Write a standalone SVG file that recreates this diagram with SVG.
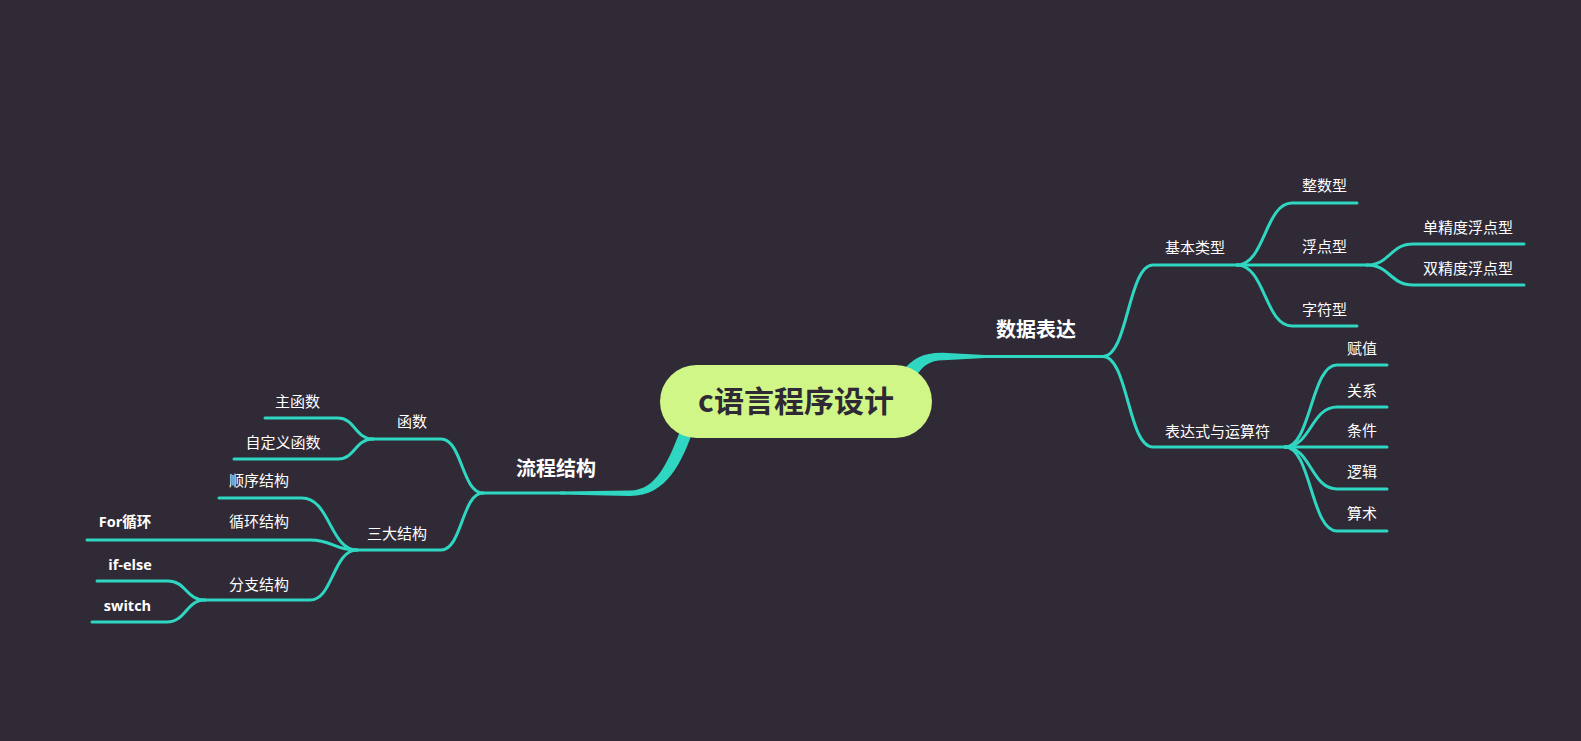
<svg xmlns="http://www.w3.org/2000/svg" width="1581" height="741" viewBox="0 0 1581 741">
<style>
.c{fill:none;stroke:#2fd6c1;stroke-width:3;stroke-linecap:round}
.t{fill:#2fd6c1;stroke:none}
.l{font-family:"Noto Sans CJK SC","Noto Sans",sans-serif;font-size:15px;fill:#ffffff;text-anchor:middle}
.b{font-family:"Noto Sans CJK SC","Noto Sans",sans-serif;font-size:20px;font-weight:700;fill:#ffffff;text-anchor:middle}
.e{font-family:"Open Sans","Noto Sans",sans-serif;font-size:14.5px;font-weight:700;fill:#ffffff;text-anchor:middle}
.root{font-family:"Noto Sans CJK SC","Noto Sans",sans-serif;font-size:30px;font-weight:700;fill:#2e2934;text-anchor:middle}
</style>
<rect x="0" y="0" width="1581" height="741" fill="#2f2a35"/>
<g id="connectors">
<path class="t" d="M903,370 C913,359 923,352.5 943,352.8 L985,355 L985,358 L943,360.3 C930,360.3 922,366 916,377 Z"/>
<path class="c" d="M980,356.5 L1103,356.5"/>
<path class="c" d="M1103,356.5 C1128,356.5 1128,265 1153,265 L1237,265"/>
<path class="c" d="M1103,356.5 C1128,356.5 1128,447 1153,447 L1285,447"/>
<path class="c" d="M1237,265 C1265,265 1265,203 1292,203 L1357,203"/>
<path class="c" d="M1237,265 L1367,265"/>
<path class="c" d="M1237,265 C1265,265 1265,326 1292,326 L1357,326"/>
<path class="c" d="M1367,265 C1390,265 1390,244 1413,244 L1524,244"/>
<path class="c" d="M1367,265 C1390,265 1390,285 1413,285 L1524,285"/>
<path class="c" d="M1285,447 C1311,447 1311,365 1337,365 L1387,365"/>
<path class="c" d="M1285,447 C1311,447 1311,407 1337,407 L1387,407"/>
<path class="c" d="M1285,447 L1387,447"/>
<path class="c" d="M1285,447 C1311,447 1311,489 1337,489 L1387,489"/>
<path class="c" d="M1285,447 C1311,447 1311,531 1337,531 L1387,531"/>
<path class="t" d="M694,428 C682,462 667,496 630,496 L560,494.5 L560,491.5 L630,490.5 C657,490.5 669,460 682,426 Z"/>
<path class="c" d="M483,493 L565,493"/>
<path class="c" d="M483,493 C462,493 462,439 441,439 L373,439"/>
<path class="c" d="M483,493 C462,493 462,550 441,550 L357,550"/>
<path class="c" d="M373,439 C355,439 355,418 338,418 L265,418"/>
<path class="c" d="M373,439 C355,439 355,459 338,459 L234,459"/>
<path class="c" d="M357,550 C330,550 330,498 302,498 L219,498"/>
<path class="c" d="M357,550 C333,550 333,540 310,540 L87,540"/>
<path class="c" d="M357,550 C333,550 333,600 310,600 L205,600"/>
<path class="c" d="M205,600 C186,600 186,581 168,581 L97,581"/>
<path class="c" d="M205,600 C186,600 186,622 167,622 L92,622"/>
</g>
<g id="root"><rect x="660" y="365" width="272" height="73" rx="36.5" fill="#d0f687"/><text class="root" x="796" y="412">c语言程序设计</text></g>
<g id="n-data"><text class="b" x="1036" y="337">数据表达</text></g>
<g id="n-basic"><text class="l" x="1195" y="253">基本类型</text></g>
<g id="n-int"><text class="l" x="1324.5" y="191">整数型</text></g>
<g id="n-float"><text class="l" x="1324.5" y="252">浮点型</text></g>
<g id="n-char"><text class="l" x="1324.5" y="315">字符型</text></g>
<g id="n-single"><text class="l" x="1468" y="233">单精度浮点型</text></g>
<g id="n-double"><text class="l" x="1468" y="274">双精度浮点型</text></g>
<g id="n-expr"><text class="l" x="1217.5" y="437">表达式与运算符</text></g>
<g id="n-assign"><text class="l" x="1362" y="354">赋值</text></g>
<g id="n-rel"><text class="l" x="1362" y="396">关系</text></g>
<g id="n-cond"><text class="l" x="1362" y="436">条件</text></g>
<g id="n-logic"><text class="l" x="1362" y="477">逻辑</text></g>
<g id="n-arith"><text class="l" x="1362" y="519">算术</text></g>
<g id="n-flow"><text class="b" x="556" y="476">流程结构</text></g>
<g id="n-func"><text class="l" x="412" y="427">函数</text></g>
<g id="n-main"><text class="l" x="297.5" y="407">主函数</text></g>
<g id="n-custom"><text class="l" x="283" y="448">自定义函数</text></g>
<g id="n-three"><text class="l" x="397" y="539">三大结构</text></g>
<g id="n-seq"><text class="l" x="259" y="486">顺序结构</text></g>
<g id="n-loop"><text class="l" x="259" y="527">循环结构</text></g>
<g id="n-for"><text class="e" x="125" y="527">For<tspan style="font-family:'Noto Sans CJK SC',sans-serif">循环</tspan></text></g>
<g id="n-branch"><text class="l" x="259" y="590">分支结构</text></g>
<g id="n-ifelse"><text class="e" x="130" y="570">if-else</text></g>
<g id="n-switch"><text class="e" x="127.5" y="611">switch</text></g>
</svg>
